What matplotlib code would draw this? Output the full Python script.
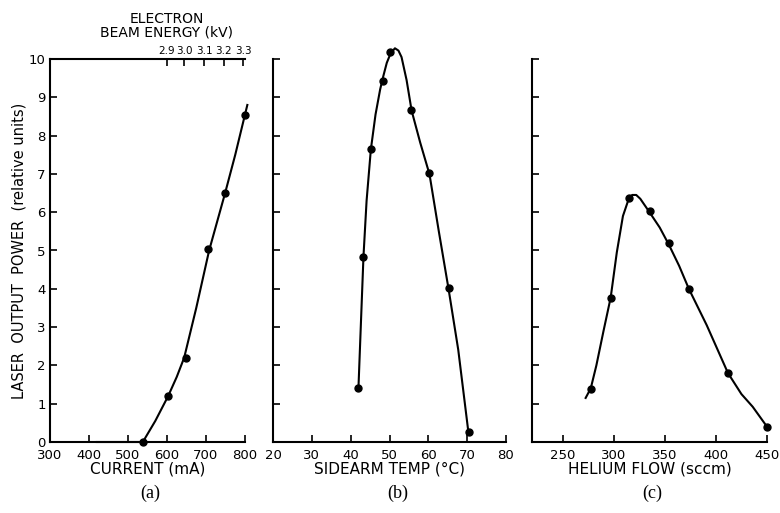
import matplotlib.pyplot as plt
import numpy as np

# (a) current sweep
current_pts = [538, 603, 649, 705, 749, 800]
power_a_pts = [0.0, 1.2, 2.2, 5.05, 6.5, 8.55]
current_fit = [420, 538, 570, 603, 625, 644, 675, 708, 749, 775, 800, 806]
power_a_fit = [0.0, 0.0, 0.55, 1.2, 1.7, 2.2, 3.5, 5.0, 6.5, 7.5, 8.55, 8.8]
energy_labels = ['2.9', '3.0', '3.1', '3.2', '3.3']
energy_at_current = [600, 644, 695, 746, 795]

# (b) sidearm temperature sweep
temp_pts = [41.9, 43.2, 45.2, 48.2, 50.1, 55.5, 60.3, 65.2, 70.4]
power_b_pts = [1.4, 4.84, 7.64, 9.43, 10.18, 8.66, 7.03, 4.02, 0.27]
temp_fit = [42.0, 42.6, 43.3, 44.1, 45.2, 46.4, 47.6, 48.4, 49.3, 50.3, 51.4,
            52.3, 53.1, 54.4, 55.7, 57.9, 60.3, 62.7, 65.2, 67.7, 70.3]
power_b_fit = [1.4, 3.0, 4.85, 6.3, 7.64, 8.55, 9.21, 9.55, 9.9, 10.15, 10.28,
               10.22, 10.05, 9.45, 8.65, 7.82, 6.99, 5.5, 4.0, 2.41, 0.27]

# (c) helium flow sweep
flow_pts = [277.5, 297, 314.7, 335, 354, 373.5, 411.8, 450]
power_c_pts = [1.39, 3.77, 6.38, 6.02, 5.2, 4.0, 1.8, 0.4]
flow_fit = [272.5, 277.5, 283, 290, 297, 303, 309, 314.7, 318, 322, 326, 335,
            345, 354, 364, 373.5, 391, 411.8, 425, 436, 450]
power_c_fit = [1.15, 1.4, 2.0, 2.9, 3.77, 4.95, 5.9, 6.35, 6.45, 6.45, 6.35,
               6.0, 5.6, 5.15, 4.6, 4.0, 3.05, 1.8, 1.25, 0.92, 0.4]

plt.rcParams['font.family'] = ['DejaVu Sans']

fig = plt.figure(figsize=(7.8, 5.13), dpi=100)
W, H = 780.0, 513.0

def make_ax(x0, x1):
    return fig.add_axes([x0 / W, (H - 442) / H, (x1 - x0) / W, 383 / H])

axa = make_ax(50, 245)
axb = make_ax(273, 506)
axc = make_ax(532, 767)

for ax in (axa, axb, axc):
    ax.spines['right'].set_visible(False)
    ax.spines['top'].set_visible(False)
    for s in ('left', 'bottom'):
        ax.spines[s].set_linewidth(1.5)
    ax.set_ylim(0, 10)
    ax.set_yticks(range(0, 11))
    ax.tick_params(direction='in', length=5, width=1.2, labelsize=9.5)
    ax.tick_params(axis='x', pad=5)

axa.plot(current_fit, power_a_fit, color='black', lw=1.5, clip_on=False)
axa.plot(current_pts, power_a_pts, 'o', color='black', ms=5, clip_on=False)
axa.set_xlim(300, 800)
axa.set_xticks([300, 400, 500, 600, 700, 800])
axa.tick_params(axis='y', pad=3)
axa.set_xlabel('CURRENT (mA)', fontsize=11, labelpad=0)
axa.set_ylabel('LASER  OUTPUT  POWER  (relative units)', fontsize=10.5, labelpad=2)

top = axa.twiny()
top.set_xlim(axa.get_xlim())
top.spines['top'].set_linewidth(1.5)
for s in ('right', 'left', 'bottom'):
    top.spines[s].set_visible(False)
top.set_xticks(energy_at_current)
top.set_xticklabels(energy_labels)
top.tick_params(direction='in', length=5, width=1.2, labelsize=7.5, pad=2)
axa.text(0.6, 1.05, 'ELECTRON\nBEAM ENERGY (kV)', transform=axa.transAxes,
         ha='center', va='bottom', fontsize=10, linespacing=0.95)

axb.plot(temp_fit, power_b_fit, color='black', lw=1.5, clip_on=False)
axb.plot(temp_pts, power_b_pts, 'o', color='black', ms=5, clip_on=False)
axb.set_xlim(20, 80)
axb.set_xticks(range(20, 81, 10))
axb.set_yticklabels([])
axb.set_xlabel('SIDEARM TEMP (\u00b0C)', fontsize=11, labelpad=0)

axc.plot(flow_fit, power_c_fit, color='black', lw=1.5, clip_on=False)
axc.plot(flow_pts, power_c_pts, 'o', color='black', ms=5, clip_on=False)
axc.set_xlim(220, 450)
axc.set_xticks([250, 300, 350, 400, 450])
axc.set_yticklabels([])
axc.set_xlabel('HELIUM FLOW (sccm)', fontsize=11, labelpad=0)

for lab, xc in (('(a)', 150), ('(b)', 398), ('(c)', 652)):
    fig.text(xc / W, 1 - 493 / H, lab, ha='center', va='center',
             fontsize=13, family='Liberation Serif')

fig.savefig('out.png', dpi=100)
